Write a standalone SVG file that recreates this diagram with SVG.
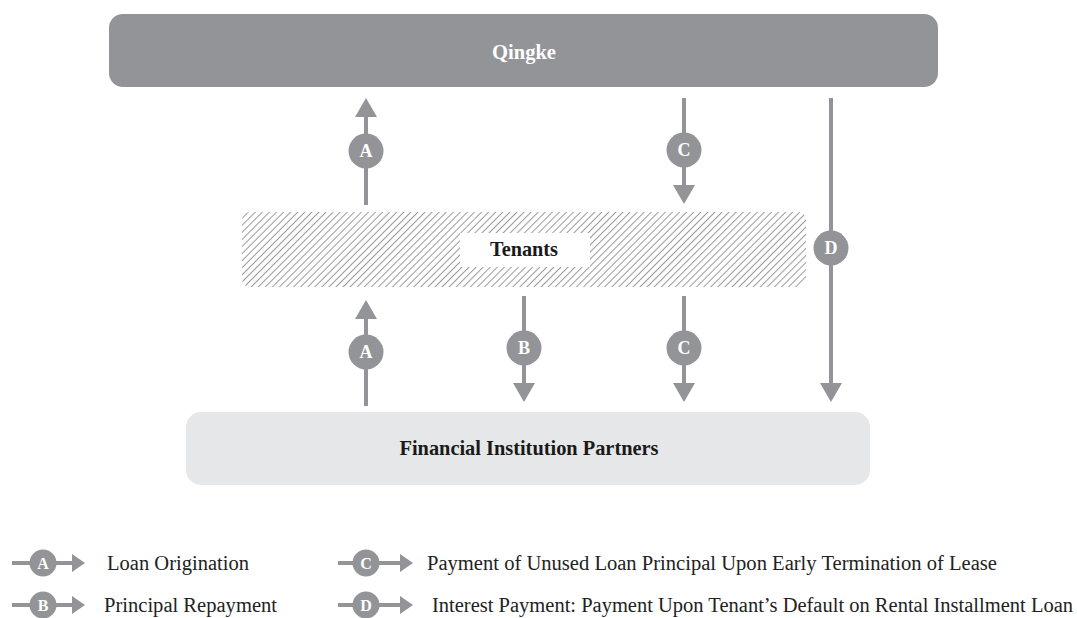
<svg xmlns="http://www.w3.org/2000/svg" width="1077" height="618" viewBox="0 0 1077 618">
  <style>
    .flow { stroke: #939497; stroke-width: 4; fill: none; }
    .head { fill: #939497; }
    .badge { fill: #939497; }
    .badge-txt { font-family: "Liberation Serif", "Times New Roman", serif; font-weight: bold; font-size: 18px; fill: #ffffff; text-anchor: middle; }
    .key-badge-txt { font-family: "Liberation Serif", "Times New Roman", serif; font-weight: bold; font-size: 16px; fill: #ffffff; text-anchor: middle; }
    .node-txt { font-family: "Liberation Serif", "Times New Roman", serif; font-weight: bold; font-size: 21px; text-anchor: middle; }
    .key-txt { font-family: "Liberation Serif", "Times New Roman", serif; font-size: 20px; fill: #222222; }
  </style>
  <defs>
    <pattern id="hatch" width="5" height="5" patternUnits="userSpaceOnUse" patternTransform="rotate(45)">
      <line x1="0" y1="0" x2="0" y2="5" stroke="#707070" stroke-width="1.4"/>
    </pattern>
    <!-- arrowheads drawn as polygons pointing up / down / right -->
    <polygon id="headUp" points="0,0 -11,19 11,19"/>
    <polygon id="headDown" points="0,0 -11,-19 11,-19"/>
    <polygon id="headRight" points="0,0 -13,-9 -13,9"/>
  </defs>

  <rect width="1077" height="618" fill="#ffffff"/>

  <!-- Qingke -->
  <g id="node-qingke">
    <rect x="109" y="14" width="829" height="73" rx="14" fill="#939497"/>
    <text class="node-txt" x="524" y="59" fill="#ffffff" textLength="64" lengthAdjust="spacingAndGlyphs">Qingke</text>
  </g>

  <!-- Tenants -->
  <g id="node-tenants">
    <rect x="242" y="212" width="564" height="75" rx="8" fill="url(#hatch)"/>
    <rect x="460" y="233" width="130" height="34" fill="#ffffff"/>
    <text class="node-txt" x="524" y="256" fill="#1a1a1a" textLength="68" lengthAdjust="spacingAndGlyphs">Tenants</text>
  </g>

  <!-- Financial Institution Partners -->
  <g id="node-fip">
    <rect x="186" y="412" width="684" height="73" rx="15" fill="#e6e7e8"/>
    <text class="node-txt" x="529" y="455" fill="#1a1a1a" textLength="259" lengthAdjust="spacingAndGlyphs">Financial Institution Partners</text>
  </g>

  <!-- connectors -->
  <g id="connectors">
    <!-- A: Tenants -> Qingke -->
    <line class="flow" x1="366" y1="205" x2="366" y2="114"/>
    <use href="#headUp" class="head" x="366" y="98"/>
    <circle class="badge" cx="366" cy="151" r="17.5"/>
    <text class="badge-txt" x="366" y="157">A</text>

    <!-- C: Qingke -> Tenants -->
    <line class="flow" x1="684" y1="98" x2="684" y2="188"/>
    <use href="#headDown" class="head" x="684" y="204"/>
    <circle class="badge" cx="684" cy="150" r="17.5"/>
    <text class="badge-txt" x="684" y="156">C</text>

    <!-- D: Qingke -> Financial Institution Partners -->
    <line class="flow" x1="831" y1="98" x2="831" y2="386"/>
    <use href="#headDown" class="head" x="831" y="402"/>
    <circle class="badge" cx="831" cy="248" r="17.5"/>
    <text class="badge-txt" x="831" y="254">D</text>

    <!-- A: Financial Institution Partners -> Tenants -->
    <line class="flow" x1="366" y1="406" x2="366" y2="316"/>
    <use href="#headUp" class="head" x="366" y="300"/>
    <circle class="badge" cx="366" cy="352" r="17.5"/>
    <text class="badge-txt" x="366" y="358">A</text>

    <!-- B: Tenants -> Financial Institution Partners -->
    <line class="flow" x1="524" y1="296" x2="524" y2="386"/>
    <use href="#headDown" class="head" x="524" y="402"/>
    <circle class="badge" cx="524" cy="348" r="17.5"/>
    <text class="badge-txt" x="524" y="354">B</text>

    <!-- C: Tenants -> Financial Institution Partners -->
    <line class="flow" x1="684" y1="296" x2="684" y2="386"/>
    <use href="#headDown" class="head" x="684" y="402"/>
    <circle class="badge" cx="684" cy="348" r="17.5"/>
    <text class="badge-txt" x="684" y="354">C</text>
  </g>

  <!-- key -->
  <g id="key">
    <g id="key-a">
      <line class="flow" x1="12" y1="563" x2="72" y2="563"/>
      <use href="#headRight" class="head" x="85" y="563"/>
      <circle class="badge" cx="43" cy="563" r="13.5"/>
      <text class="key-badge-txt" x="43" y="569">A</text>
      <text class="key-txt" x="107" y="570" textLength="142" lengthAdjust="spacingAndGlyphs">Loan Origination</text>
    </g>
    <g id="key-b">
      <line class="flow" x1="12" y1="605" x2="72" y2="605"/>
      <use href="#headRight" class="head" x="85" y="605"/>
      <circle class="badge" cx="43" cy="605" r="13.5"/>
      <text class="key-badge-txt" x="43" y="611">B</text>
      <text class="key-txt" x="104" y="612" textLength="173" lengthAdjust="spacingAndGlyphs">Principal Repayment</text>
    </g>
    <g id="key-c">
      <line class="flow" x1="338" y1="563" x2="400" y2="563"/>
      <use href="#headRight" class="head" x="413" y="563"/>
      <circle class="badge" cx="366" cy="563" r="13.5"/>
      <text class="key-badge-txt" x="366" y="569">C</text>
      <text class="key-txt" x="427" y="570" textLength="570" lengthAdjust="spacingAndGlyphs">Payment of Unused Loan Principal Upon Early Termination of Lease</text>
    </g>
    <g id="key-d">
      <line class="flow" x1="338" y1="605" x2="400" y2="605"/>
      <use href="#headRight" class="head" x="413" y="605"/>
      <circle class="badge" cx="366" cy="605" r="13.5"/>
      <text class="key-badge-txt" x="366" y="611">D</text>
      <text class="key-txt" x="432" y="612" textLength="641" lengthAdjust="spacingAndGlyphs">Interest Payment: Payment Upon Tenant’s Default on Rental Installment Loan</text>
    </g>
  </g>
</svg>
